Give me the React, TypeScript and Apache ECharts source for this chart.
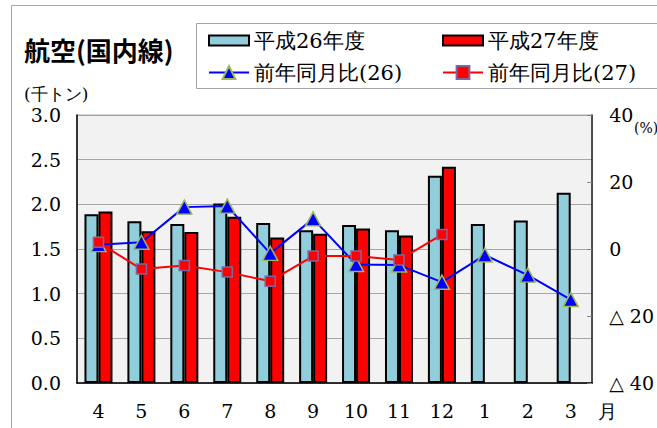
import React, { useEffect, useRef } from 'react';
import * as echarts from 'echarts';

const months = ['4', '5', '6', '7', '8', '9', '10', '11', '12', '1', '2', '3'];
const cargo26 = [1.89, 1.81, 1.78, 2.01, 1.79, 1.71, 1.77, 1.71, 2.32, 1.78, 1.82, 2.13];
const cargo27 = [1.92, 1.70, 1.69, 1.86, 1.63, 1.67, 1.73, 1.65, 2.42];
const yoy26 = [1.3, 2.0, 12.5, 12.8, -1.3, 9.0, -4.6, -4.8, -9.9, -1.8, -7.8, -15.1];
const yoy27 = [2.0, -6.0, -4.9, -6.9, -9.6, -2.1, -2.1, -3.3, 4.3];

const seriesNames = ['平成26年度', '平成27年度', '前年同月比(26)', '前年同月比(27)'];
const titleText = '航空(国内線)';
const leftUnit = '(千トン)';
const rightUnit = '(%)';
const monthUnit = '月';

const SERIF = 'DejaVu Serif, serif';
const GOTHIC = 'Noto Sans CJK JP, sans-serif';

export default function App() {
  const ref = useRef<HTMLDivElement>(null);
  useEffect(() => {
    const chart = echarts.init(ref.current!, null, { renderer: 'svg' });
    const legendText = { fontFamily: SERIF, fontSize: 21, color: '#000' };
    const legendBase = { padding: 0, itemGap: 0, selectedMode: false, textStyle: legendText, itemWidth: 40 };
    chart.setOption({
      animation: false,
      backgroundColor: '#fff',
      graphic: [
        { type: 'rect', z: 0, shape: { x: 11.5, y: 5.5, width: 700, height: 500 }, style: { fill: 'none', stroke: '#a6a6a6', lineWidth: 1 } },
        { type: 'rect', z: 0, shape: { x: 196.5, y: 23.5, width: 600, height: 65 }, style: { fill: '#fff', stroke: '#a6a6a6', lineWidth: 1 } },
        { type: 'text', z: 5, x: 24, y: 49, style: { text: titleText, fontFamily: GOTHIC, fontSize: 26, fontWeight: 'bold', fill: '#000', verticalAlign: 'middle' } },
        { type: 'text', z: 5, x: 24, y: 94, style: { text: leftUnit, fontFamily: SERIF, fontSize: 17, fill: '#000', verticalAlign: 'middle' } },
        { type: 'text', z: 5, x: 634, y: 128, style: { text: rightUnit, fontFamily: SERIF, fontSize: 14, fill: '#000', verticalAlign: 'middle' } },
        { type: 'text', z: 5, x: 598, y: 411, style: { text: monthUnit, fontFamily: SERIF, fontSize: 19, fill: '#000', verticalAlign: 'middle' } },
      ],
      legend: [
        { ...legendBase, left: 208, top: 30, itemHeight: 10, icon: 'rect', data: [{ name: seriesNames[0], itemStyle: { borderColor: '#000', borderWidth: 2 } }] },
        { ...legendBase, left: 442, top: 30, itemHeight: 10, icon: 'rect', data: [{ name: seriesNames[1], itemStyle: { borderColor: '#000', borderWidth: 2 } }] },
        { ...legendBase, left: 208, top: 62, itemHeight: 16, data: [seriesNames[2]] },
        { ...legendBase, left: 442, top: 62, itemHeight: 16, data: [seriesNames[3]] },
      ],
      grid: {
        left: 77, right: 61, top: 115, bottom: 45,
        show: true, backgroundColor: '#f2f2f2', borderColor: '#a6a6a6', borderWidth: 1,
      },
      xAxis: {
        type: 'category',
        data: months,
        axisLine: { lineStyle: { color: '#000', width: 1.5 } },
        axisTick: { inside: true, length: 6, lineStyle: { color: '#a6a6a6' } },
        axisLabel: { margin: 18, fontSize: 19, fontFamily: SERIF, color: '#000' },
      },
      yAxis: [
        {
          type: 'value', min: 0, max: 3, interval: 0.5,
          axisLine: { show: true, lineStyle: { color: '#000', width: 1.5 } },
          axisTick: { show: false },
          axisLabel: { margin: 16, fontSize: 19, fontFamily: SERIF, color: '#000', formatter: (v: number) => v.toFixed(1) },
          splitLine: { lineStyle: { color: '#a6a6a6', width: 1 } },
        },
        {
          type: 'value', min: -40, max: 40, interval: 20, position: 'right',
          axisLine: { show: true, lineStyle: { color: '#222', width: 1.5 } },
          axisTick: { show: true, inside: true, length: 5, lineStyle: { color: '#808080' } },
          axisLabel: { margin: 17, fontSize: 19, fontFamily: SERIF, color: '#000', formatter: (v: number) => (v < 0 ? '△ ' + (-v) : String(v)) },
          splitLine: { show: false },
        },
      ],
      series: [
        { name: seriesNames[0], type: 'bar', data: cargo26, barWidth: 14, barGap: '0%', itemStyle: { color: '#92CDDC', borderColor: '#000', borderWidth: 2 } },
        { name: seriesNames[1], type: 'bar', data: cargo27, barWidth: 14, barGap: '0%', itemStyle: { color: '#FF0000', borderColor: '#000', borderWidth: 2 } },
        {
          name: seriesNames[2], type: 'line', yAxisIndex: 1, data: yoy26, z: 3,
          symbol: 'triangle', symbolSize: [15, 14],
          lineStyle: { color: '#0000FF', width: 2 },
          itemStyle: { color: '#0000FF', borderColor: '#9BBB59', borderWidth: 1.5 },
        },
        {
          name: seriesNames[3], type: 'line', yAxisIndex: 1, data: yoy27, z: 4,
          symbol: 'rect', symbolSize: 10,
          lineStyle: { color: '#FF0000', width: 2 },
          itemStyle: { color: '#FF0000', borderColor: '#8064A2', borderWidth: 1.5 },
        },
      ],
    });
    return () => chart.dispose();
  }, []);
  return <div ref={ref} style={{ position: 'fixed', left: 0, top: 0, width: 657, height: 428, background: '#fff' }} />;
}
